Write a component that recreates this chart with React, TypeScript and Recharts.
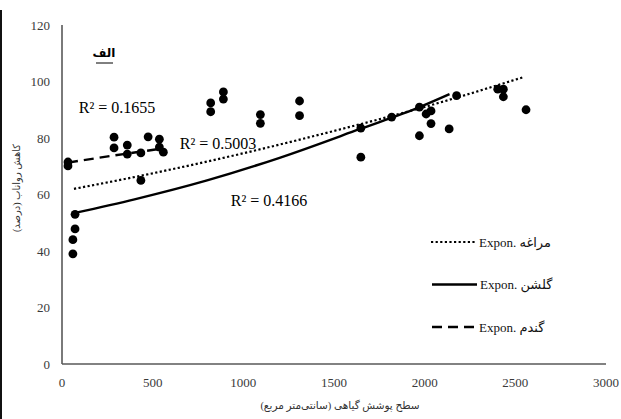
import React from 'react';
import { ScatterChart, Scatter, XAxis, YAxis } from 'recharts';

const xTicks = [0, 500, 1000, 1500, 2000, 2500, 3000];
const yTicks = [0, 20, 40, 60, 80, 100, 120];

// observed points (cover area cm2, runoff reduction %)
const gandomPoints = [
  { x: 33, y: 71.5 }, { x: 33, y: 70.1 }, { x: 287, y: 80.3 }, { x: 287, y: 76.5 },
  { x: 360, y: 77.5 }, { x: 360, y: 74.3 }, { x: 435, y: 74.7 }, { x: 435, y: 65 },
  { x: 475, y: 80.4 }, { x: 537, y: 79.6 }, { x: 537, y: 76.8 }, { x: 559, y: 75 },
];
const golshanPoints = [
  { x: 72, y: 53 }, { x: 72, y: 47.8 }, { x: 60, y: 44 }, { x: 60, y: 39 },
  { x: 1648, y: 83.5 }, { x: 1648, y: 73.2 }, { x: 1818, y: 87.4 }, { x: 1971, y: 90.9 },
  { x: 1971, y: 80.8 }, { x: 2008, y: 88.5 }, { x: 2035, y: 89.6 }, { x: 2035, y: 85.1 },
  { x: 2135, y: 83.2 },
];
const maraghehPoints = [
  { x: 820, y: 92.4 }, { x: 820, y: 89.3 }, { x: 890, y: 96.3 }, { x: 890, y: 93.8 },
  { x: 1094, y: 88.3 }, { x: 1094, y: 85.2 }, { x: 1310, y: 93.1 }, { x: 1310, y: 87.9 },
  { x: 2176, y: 95 }, { x: 2403, y: 97.3 }, { x: 2434, y: 97.3 }, { x: 2434, y: 94.6 },
  { x: 2559, y: 90 },
];

// trend lines
const maraghehTrend = [
  { x: 66, y: 62 }, { x: 500, y: 67.5 }, { x: 1000, y: 74.6 }, { x: 1500, y: 82.5 },
  { x: 2000, y: 91 }, { x: 2548, y: 101.6 },
];
const golshanTrend = [
  { x: 72, y: 53.5 }, { x: 400, y: 58.3 }, { x: 800, y: 65 }, { x: 1200, y: 73 },
  { x: 1644, y: 83.2 }, { x: 1975, y: 91 }, { x: 2137, y: 95.5 },
];
const gandomTrend = [{ x: 33, y: 71.3 }, { x: 265, y: 73.6 }, { x: 557, y: 76.3 }];

const serif = '"Liberation Serif", "DejaVu Serif", "DejaVu Sans", serif';

const Dot = (p: any) => <circle cx={p.cx} cy={p.cy} r={4.4} fill="#000" />;
const NoShape = () => <g />;

export default function App() {
  const tick = { fontFamily: serif, fontSize: 13, fill: '#3a3a3a' };
  return (
    <div style={{ position: 'absolute', left: 0, top: 0, width: 621, height: 419, background: '#fff' }}>
      <ScatterChart width={621} height={419} margin={{ top: 25, right: 15, left: 0, bottom: 0 }}>
        <XAxis
          type="number"
          dataKey="x"
          domain={[0, 3000]}
          ticks={xTicks}
          tickLine={false}
          tickSize={0}
          tickMargin={14}
          height={55}
          axisLine={{ stroke: '#595959', strokeWidth: 1.6 }}
          tick={tick}
          interval={0}
        />
        <YAxis
          type="number"
          dataKey="y"
          domain={[0, 120]}
          ticks={yTicks}
          tickLine={false}
          tickSize={0}
          tickMargin={12}
          width={62}
          axisLine={{ stroke: '#595959', strokeWidth: 1.6 }}
          tick={tick}
          interval={0}
        />
        <Scatter data={maraghehTrend} line={{ stroke: '#000', strokeWidth: 2.2, strokeDasharray: '2.2 2.4' }} lineJointType="monotoneX" shape={NoShape} legendType="none" isAnimationActive={false} />
        <Scatter data={golshanTrend} line={{ stroke: '#000', strokeWidth: 2.4 }} lineJointType="monotoneX" shape={NoShape} legendType="none" isAnimationActive={false} />
        <Scatter data={gandomTrend} line={{ stroke: '#000', strokeWidth: 2.4, strokeDasharray: '10 6' }} lineJointType="monotoneX" shape={NoShape} legendType="none" isAnimationActive={false} />
        <Scatter data={gandomPoints} shape={Dot} legendType="none" isAnimationActive={false} />
        <Scatter data={golshanPoints} shape={Dot} legendType="none" isAnimationActive={false} />
        <Scatter data={maraghehPoints} shape={Dot} legendType="none" isAnimationActive={false} />
      </ScatterChart>
      <svg width={621} height={419} style={{ position: 'absolute', left: 0, top: 0, pointerEvents: 'none' }}>
        <line x1={1} y1={10} x2={1} y2={419} stroke="#111" strokeWidth={2} />
        <text x={104} y={57} textAnchor="middle" fontFamily={serif} fontSize={12} fontWeight="bold" fill="#000">الف</text>
        <line x1={96} y1={63} x2={113} y2={63} stroke="#000" strokeWidth={1} />
        <g fontFamily={serif} fontSize={16} fill="#000">
          <text x={117} y={113} textAnchor="middle">R² = 0.1655</text>
          <text x={218} y={149} textAnchor="middle">R² = 0.5003</text>
          <text x={269} y={206} textAnchor="middle">R² = 0.4166</text>
        </g>
        <text
          transform="translate(16,188) rotate(-90)"
          textAnchor="middle"
          dominantBaseline="central"
          fontFamily={serif}
          fontSize={10}
          fill="#333"
        >کاهش رواناب (درصد)</text>
        <text x={340} y={409} textAnchor="middle" fontFamily={serif} fontSize={10.5} fill="#333">سطح پوشش گیاهی (سانتی‌متر مربع)</text>
        <g fontFamily={serif} fontSize={13} fill="#111">
          <line x1={431} y1={242} x2={475} y2={242} stroke="#000" strokeWidth={2.2} strokeDasharray="2.2 2.4" />
          <text x={479} y={246.5} direction="ltr">Expon. مراغه</text>
          <line x1={432} y1={284.5} x2={477} y2={284.5} stroke="#000" strokeWidth={2.4} />
          <text x={480} y={289} direction="ltr">Expon. گلشن</text>
          <line x1={432} y1={327} x2={476} y2={327} stroke="#000" strokeWidth={2.4} strokeDasharray="10 6" />
          <text x={479} y={331.5} direction="ltr">Expon. گندم</text>
        </g>
      </svg>
    </div>
  );
}
